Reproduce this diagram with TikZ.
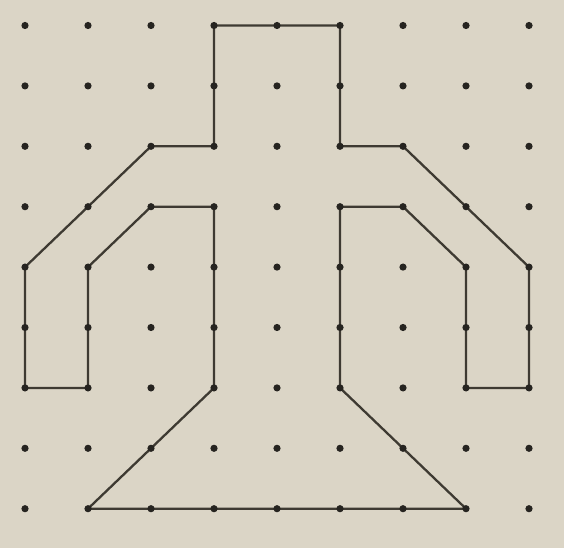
\documentclass[tikz,border=0pt]{standalone}
\usepackage{tikz}
\usetikzlibrary{calc}
\definecolor{paper}{RGB}{219,213,198}
\definecolor{ink}{RGB}{62,58,50}
\definecolor{dotink}{RGB}{38,36,32}

\begin{document}
\begin{tikzpicture}[x=0.02cm, y=0.02cm]
  \fill[paper] (0,0) rectangle (564,548);
  \useasboundingbox (0,0) rectangle (564,548);
  % grid points
  \foreach \i in {0,...,8}
    \foreach \j in {0,...,8}
      \coordinate (c-\i-\j) at ({25+63*\i},{522.5-60.4*\j});
  % outline
  \draw[ink, line width=1.3pt, line join=round]
    (c-3-0)--(c-5-0)--(c-5-2)--(c-6-2)--(c-8-4)--(c-8-6)--(c-7-6)--(c-7-4)
    --(c-6-3)--(c-5-3)--(c-5-6)--(c-7-8)--(c-1-8)--(c-3-6)--(c-3-3)--(c-2-3)
    --(c-1-4)--(c-1-6)--(c-0-6)--(c-0-4)--(c-2-2)--(c-3-2)--cycle;
  \foreach \i in {0,...,8}
    \foreach \j in {0,...,8}
      \fill[dotink] (c-\i-\j) circle (3.6);
\end{tikzpicture}
\end{document}
